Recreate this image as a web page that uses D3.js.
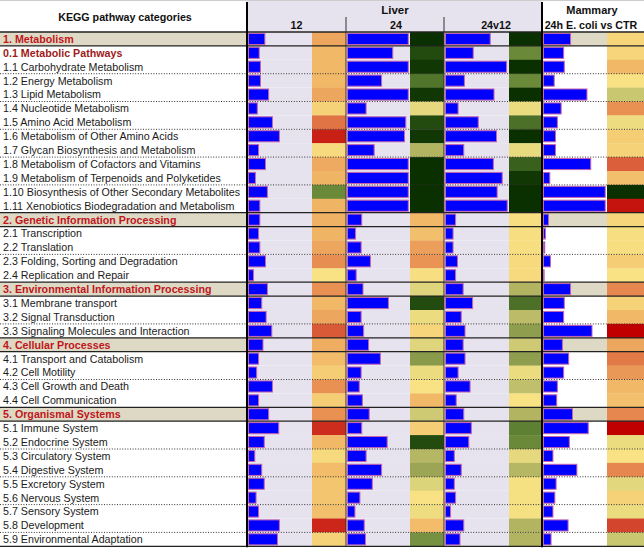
<!DOCTYPE html>
<html><head><meta charset="utf-8">
<script src="https://cdn.jsdelivr.net/npm/d3@7"></script>
<style>body{margin:0;background:#fff} svg{display:block} text{font-family:"Liberation Sans",Arial,sans-serif}</style>
</head><body><svg id="c" width="644" height="548"></svg>
<script>
const categories = [
 "1. Metabolism","0.1 Metabolic Pathways","1.1 Carbohydrate Metabolism","1.2 Energy Metabolism","1.3 Lipid Metabolism",
 "1.4 Nucleotide Metabolism","1.5 Amino Acid Metabolism","1.6 Metabolism of Other Amino Acids","1.7 Glycan Biosynthesis and Metabolism",
 "1.8 Metabolism of Cofactors and Vitamins","1.9 Metabolism of Terpenoids and Polyketides","1.10 Biosynthesis of Other Secondary Metabolites",
 "1.11 Xenobiotics Biodegradation and Metabolism",
 "2. Genetic Information Processing","2.1 Transcription","2.2 Translation","2.3 Folding, Sorting and Degradation","2.4 Replication and Repair",
 "3. Environmental Information Processing","3.1 Membrane transport","3.2 Signal Transduction","3.3 Signaling Molecules and Interaction",
 "4. Cellular Processes","4.1 Transport and Catabolism","4.2 Cell Motility","4.3 Cell Growth and Death","4.4 Cell Communication",
 "5. Organismal Systems","5.1 Immune System","5.2 Endocrine System","5.3 Circulatory System","5.4 Digestive System","5.5 Excretory System",
 "5.6 Nervous System","5.7 Sensory System","5.8 Development","5.9 Environmental Adaptation"
];
const boldSubRows = ["0.1 Metabolic Pathways"];
const headerTitle = "KEGG pathway categories";
const groupLabels = ["Liver","Mammary"];
const columnLabels = ["12","24","24v12","24h E. coli vs CTR"];

// bar lengths (% of bar area)
const liver12Bars = [26,17,19,19,32,14,38,49,16,27,11,30,18, 18,16,18,27,8, 30,21,28,37, 23,16,13,38,16, 32,48,25,10,21,25,12,16,49,46];
const liver24Bars = [98,73,98,55,98,30,94,92,43,98,98,98,98, 23,13,22,37,14, 25,66,22,26, 34,53,22,19,24, 35,23,64,30,55,40,20,12,27,29];
const liver24v12Bars = [71,44,97,30,77,20,52,81,29,76,90,82,98, 16,12,12,19,16, 28,43,25,31, 28,31,20,39,17, 29,41,37,14,25,14,16,8,29,23];
const mammaryBars = [43,32,33,17,69,28,22,19,19,75,10,98,98, 8,3,2,11,1, 43,33,32,77, 30,40,32,22,21, 46,71,41,15,53,20,18,15,39,12];

// heat scores (0 = red ... 5 = yellow ... 10 = dark green)
const liver12Heat = [3.5,4,4,4,3.5,4.6,2,0.5,4.8,3.6,3.9,8,3.9, 3.8,3.9,3.5,2.8,5, 2.9,4,3.5,1.5, 3.7,4.1,4.5,2.9,4.5, 2.9,0.7,4,4.8,4.1,4.3,4.3,4.2,0.6,4.6];
const liver24Heat = [10,9.3,9.8,8.4,9.8,5.6,9.3,9.8,6.8,10,10,10,10, 4,4.2,3.3,3,4.9, 5.8,9.3,5.4,4.7, 5.8,7.5,5.4,5,4, 6.2,4.5,9.3,6.7,7.2,5.9,5,5.3,4.1,7.8];
const liver24v12Heat = [10,8,10,8,10,5.4,8.5,10,5.5,8.8,9.8,10,10, 4.9,4.9,4.9,4.8,4.8, 6.8,8.5,6.6,7.4, 6.2,7.4,5.4,6.5,5, 6.8,8.2,8,5.6,6.7,5.1,5.1,5.1,6.8,6.8];
const mammaryHeat = [4.7,4.7,4,5,6.3,2.9,5.3,4.5,4.6,1.6,4.2,10,0.3, 4.7,4.9,4.9,4.5,5, 2.6,4.6,4,0, 3.5,2.2,3.1,4,4.2, 2.6,0,5.4,5,2.6,5.7,4.6,5.4,1.1,6.3];

const heatStops = [0,1,2,3,4,5,6,7,8,9,10];
const heatColors = ["#c00000","#d2402a","#e07444","#e99455","#f1b867","#f8e283","#d8d27a","#a8ac5c","#6a8a3a","#2e5616","#0a3000"];

const svg = d3.select("#c");
const heat = d3.scaleLinear().domain(heatStops).range(heatColors).clamp(true);
const y = d3.scaleBand().domain(categories).range([32, 32 + 13.9*categories.length]);
const isCat = d => /^\d\. /.test(d);
const tableBottom = y.range()[1];

const LAV = "#e6e3ef", BEIGE = "#ddd9c4";
const cols = [
  {x0:247, bx:248, hx:312, hx1:346, bars:liver12Bars, heat:liver12Heat, bg:LAV, catBg:LAV},
  {x0:346, bx:347, hx:410, hx1:444, bars:liver24Bars, heat:liver24Heat, bg:LAV, catBg:LAV},
  {x0:444, bx:445, hx:509, hx1:542, bars:liver24v12Bars, heat:liver24v12Heat, bg:LAV, catBg:LAV},
  {x0:542, bx:543, hx:607, hx1:644, bars:mammaryBars, heat:mammaryHeat, bg:"#ffffff", catBg:BEIGE}
];

// header backgrounds
svg.append("rect").attr("x",247).attr("y",1).attr("width",295).attr("height",31).attr("fill",LAV);
svg.append("line").attr("x1",0).attr("x2",644).attr("y1",0.5).attr("y2",0.5).attr("stroke","#ccc");

// label column category backgrounds
svg.selectAll("rect.catbg").data(categories.filter(isCat)).join("rect")
  .attr("x",0).attr("y",d=>y(d)).attr("width",247).attr("height",y.bandwidth()).attr("fill",BEIGE);

cols.forEach(c => {
  const g = svg.append("g");
  const x = d3.scaleLinear().domain([0,100]).range([c.bx, c.hx-1]);
  g.selectAll("rect.bg").data(categories).join("rect")
    .attr("x",c.x0).attr("y",d=>y(d)).attr("width",c.hx-c.x0).attr("height",y.bandwidth())
    .attr("fill",d=>isCat(d)?c.catBg:c.bg);
  g.selectAll("rect.h").data(categories).join("rect")
    .attr("x",c.hx).attr("y",d=>y(d)).attr("width",c.hx1-c.hx).attr("height",y.bandwidth()+0.3)
    .attr("fill",(d,i)=>heat(c.heat[i]));
  g.selectAll("rect.b").data(categories).join("rect")
    .attr("x",c.bx+0.5).attr("y",d=>y(d)+1.4).attr("height",y.bandwidth()-2.8)
    .attr("width",(d,i)=>Math.max(0.5,x(c.bars[i])-c.bx))
    .attr("fill","#0000ff").attr("stroke","#c664b0").attr("stroke-width",1);
});

// horizontal lines
let sub = 0;
categories.forEach((d,i) => {
  const yb = y(d) + y.bandwidth();
  const next = categories[i+1];
  if (isCat(d)) {
    sub = 0;
    svg.append("line").attr("x1",0).attr("x2",644).attr("y1",y(d)).attr("y2",y(d)).attr("stroke","#222").attr("stroke-width",1.3);
    svg.append("line").attr("x1",0).attr("x2",644).attr("y1",yb).attr("y2",yb).attr("stroke","#222").attr("stroke-width",1.3);
  } else {
    sub++;
    if (sub % 2 === 0 && next && !isCat(next)) {
      svg.append("line").attr("x1",0).attr("x2",644).attr("y1",yb).attr("y2",yb)
        .attr("stroke","#333").attr("stroke-width",1).attr("stroke-dasharray","1,1.6");
    }
  }
});
svg.append("line").attr("x1",0).attr("x2",644).attr("y1",tableBottom).attr("y2",tableBottom).attr("stroke","#222").attr("stroke-width",1.3);
svg.append("line").attr("x1",0).attr("x2",644).attr("y1",31.5).attr("y2",31.5).attr("stroke","#555").attr("stroke-width",1);

// vertical lines
[[247,2,2],[542,2,2]].forEach(v=>svg.append("line").attr("x1",v[0]).attr("x2",v[0]).attr("y1",v[1]).attr("y2",tableBottom+1).attr("stroke","#000").attr("stroke-width",v[2]));
[346,444].forEach(v=>svg.append("line").attr("x1",v).attr("x2",v).attr("y1",17).attr("y2",tableBottom).attr("stroke","#333").attr("stroke-width",1));

// row labels
svg.selectAll("text.lbl").data(categories).join("text")
  .attr("x",3).attr("y",d=>y(d)+y.bandwidth()/2+3.9)
  .attr("font-size","10.7px")
  .attr("font-weight",d=>(isCat(d)||boldSubRows.includes(d))?"bold":"normal")
  .attr("fill",d=>isCat(d)?"#c0161c":boldSubRows.includes(d)?"#9e1a1a":"#1a1a1a")
  .text(d=>d);

// header texts
const hdr = (t,x,yy,fs)=>svg.append("text").attr("x",x).attr("y",yy).attr("text-anchor","middle")
  .attr("font-size",fs).attr("font-weight","bold").attr("fill","#111").text(t);
hdr(headerTitle,125,21,"10.7px");
hdr(groupLabels[0],395,14,"11.5px");
hdr(groupLabels[1],592,14,"11px");
hdr(columnLabels[0],296.5,29,"10.7px");
hdr(columnLabels[1],396,29,"10.7px");
hdr(columnLabels[2],496,29,"10.7px");
hdr(columnLabels[3],591,29,"10.7px");
</script></body></html>
